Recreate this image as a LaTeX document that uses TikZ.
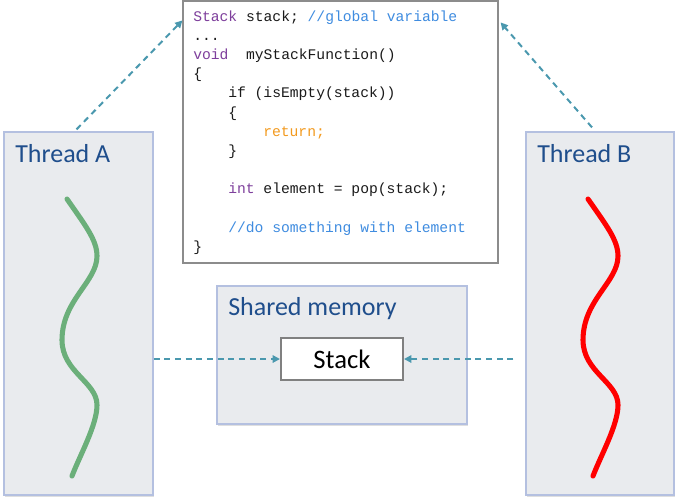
\documentclass[tikz,border=0pt]{standalone}
\usepackage{fontspec}
\setmainfont{Carlito}
\setmonofont{Liberation Mono}
\usetikzlibrary{arrows.meta,fit,calc,shadows}
\definecolor{boxfill}{HTML}{E9EBEE}
\definecolor{boxline}{HTML}{B4C0E0}
\definecolor{titleblue}{HTML}{1F4E8C}
\definecolor{kwpurple}{HTML}{7E3F9C}
\definecolor{cmtblue}{HTML}{3F8CE0}
\definecolor{retorange}{HTML}{F39A1E}
\definecolor{codeblack}{HTML}{1A1A1A}
\definecolor{arrteal}{HTML}{4A98AE}
\definecolor{wavegreen}{HTML}{6BAF7A}
\tikzset{
  panel/.style={draw=boxline, fill=boxfill, line width=0.9pt, inner sep=0pt,
    drop shadow={opacity=0.25, shadow xshift=0.6pt, shadow yshift=-1.2pt}},
  codebox/.style={draw=black!45, fill=white, line width=0.9pt, inner sep=0pt},
  stackbox/.style={draw=black!50, fill=white, line width=1.5pt, minimum width=91.5pt,
    minimum height=31.5pt, font=\fontsize{20}{24}\selectfont, text=black},
  paneltitle/.style={anchor=base west, text=titleblue, font=\fontsize{19.5}{23}\selectfont, inner sep=0pt},
  codeline/.style={anchor=base west, inner sep=0pt, font=\ttfamily\fontsize{11}{13}\selectfont, text=codeblack},
  flow/.style={draw=arrteal, line width=1.5pt, dash pattern=on 4.5pt off 3.5pt,
    -{Triangle[length=5.5pt,width=5.5pt]}},
  wave/.style={line width=3.8pt, line cap=round}
}
\begin{document}
\begin{tikzpicture}[x=0.75pt, y=-0.75pt]
\useasboundingbox (0,0) rectangle (680,501);
% panels
\node[panel, fit={(4,132) (153,495)}] (ta) {};
\node[panel, fit={(526,132) (674,495)}] (tb) {};
\node[panel, fit={(217,286) (467,424)}] (sm) {};
\node[codebox, fit={(183,1) (498,263)}] (code) {};
\node[stackbox] (stk) at (342,359) {Stack};
% titles
\node[paneltitle] (tal) at (15,162) {Thread A};
\node[paneltitle] (tbl) at (537,162) {Thread B};
\node[paneltitle] (sml) at (228,315) {Shared memory};
% code
\node[codeline] (c1) at (193,21.0) {\textcolor{kwpurple}{Stack} stack; \textcolor{cmtblue}{//global variable}};
\node[codeline] (c2) at (193,40.2) {...};
\node[codeline] (c3) at (193,59.4) {\textcolor{kwpurple}{void}\ \ myStackFunction()};
\node[codeline] (c4) at (193,78.6) {\{};
\node[codeline] (c5) at (228,97.8) {if (isEmpty(stack))};
\node[codeline] (c6) at (228,117.0) {\{};
\node[codeline] (c7) at (263,136.2) {\textcolor{retorange}{return;}};
\node[codeline] (c8) at (228,155.4) {\}};
\node[codeline] (c9) at (228,193.8) {\textcolor{kwpurple}{int} element = pop(stack);};
\node[codeline] (c10) at (228,232.2) {\textcolor{cmtblue}{//do something with element}};
\node[codeline] (c11) at (193,251.4) {\}};
% arrows
\coordinate (ain) at ($(code.north west)+(0,20)$);
\coordinate (bin) at ($(code.north east)+(2,22)$);
\draw[flow] ($(ta.north)+(-2,-2)$) -- (ain);
\draw[flow] ($(tb.north)+(-8,-4)$) -- (bin);
\coordinate (aout) at (ta.east |- stk.west);
\coordinate (bout) at ($(tb.west |- stk.east)+(-12,0)$);
\draw[flow] (aout) -- (stk.west);
\draw[flow] (bout) -- (stk.east);
% threads
\draw[wave, wavegreen] (67,199) .. controls (85,225) and (97,240) .. (97,256)
  .. controls (97,282) and (62,300) .. (62,340)
  .. controls (62,372) and (97,382) .. (97,405)
  .. controls (97,425) and (80,455) .. (72,476);
\draw[wave, red] (588,199) .. controls (606,225) and (618,240) .. (618,256)
  .. controls (618,282) and (583,300) .. (583,340)
  .. controls (583,372) and (618,382) .. (618,405)
  .. controls (618,425) and (601,455) .. (593,476);
\end{tikzpicture}
\end{document}
